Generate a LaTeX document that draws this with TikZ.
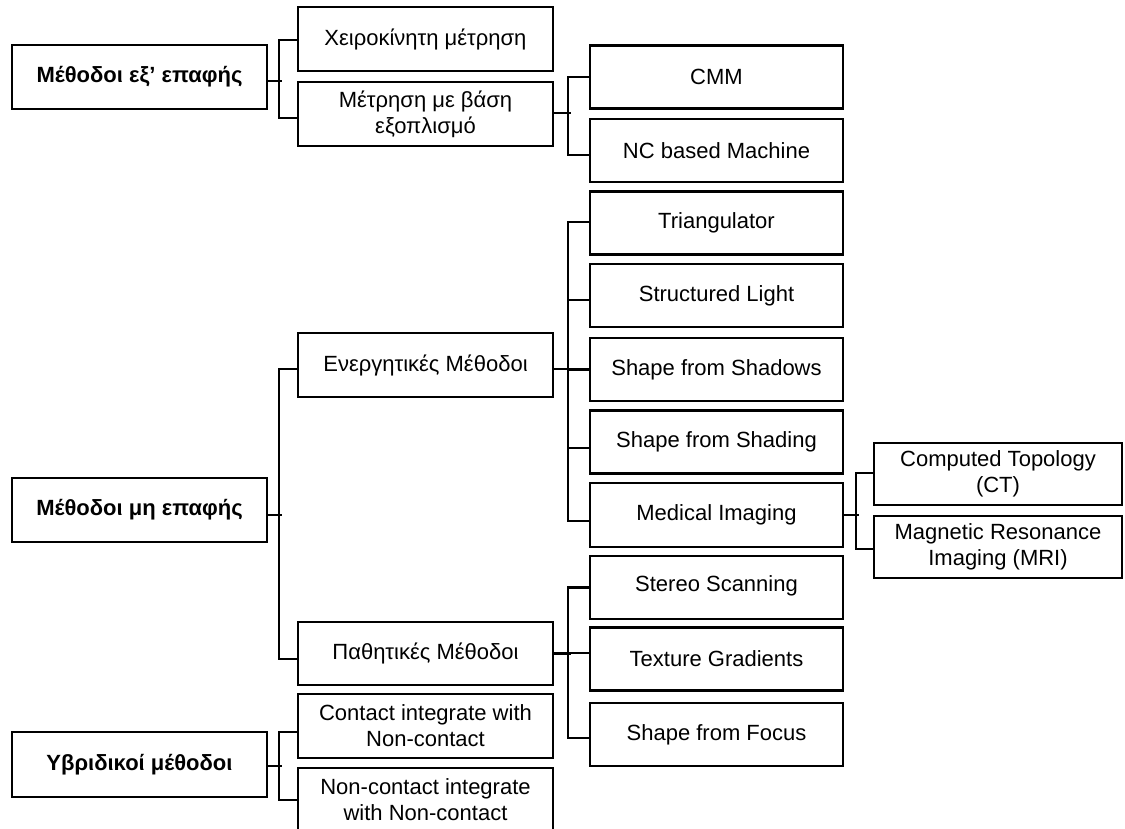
\documentclass[tikz,border=0pt]{standalone}
\usepackage{fontspec}
\setmainfont{Liberation Sans}
\begin{document}
\begin{tikzpicture}[x=1pt,y=-1pt,
  box/.style={draw,line width=2.4pt,rectangle,inner sep=0pt,align=center,
    font=\fontsize{22}{26}\selectfont},
  lzero/.style={box,minimum width=255pt,minimum height=64pt,
    font=\bfseries\fontsize{22}{26}\selectfont},
  lone/.style={box,minimum width=255pt,minimum height=64pt},
  ltwo/.style={box,minimum width=253pt,minimum height=63pt},
  lthree/.style={box,minimum width=248pt,minimum height=62pt},
  link/.style={line width=2.2pt,line cap=rect}]
\useasboundingbox (0,0) rectangle (1125,828);
% level 0
\node[lzero] (a0) at (139.5,77) {Μέθοδοι εξ’ επαφής};
\node[lzero] (b0) at (139.5,510) {Μέθοδοι μη επαφής};
\node[lzero,minimum height=65pt] (c0) at (139.5,764.5) {Υβριδικοί μέθοδοι};
% level 1
\node[lone] (a1) at (425.5,39) {Χειροκίνητη μέτρηση};
\node[lone] (a2) at (425.5,114) {Μέτρηση με βάση\\εξοπλισμό};
\node[lone] (b1) at (425.5,365) {Ενεργητικές Μέθοδοι};
\node[lone,minimum height=63pt] (b2) at (425.5,653.5) {Παθητικές Μέθοδοι};
\node[lone] (c1) at (425.5,726) {Contact integrate with\\Non-contact};
\node[lone] (c2) at (425.5,800) {Non-contact integrate\\with Non-contact};
% level 2
\node[ltwo] (cmm) at (716.5,77) {CMM};
\node[ltwo] (nc) at (716.5,150.5) {NC based Machine};
\node[ltwo] (tri) at (716.5,223) {Triangulator};
\node[ltwo] (sl) at (716.5,295.5) {Structured Light};
\node[ltwo] (ssw) at (716.5,369.5) {Shape from Shadows};
\node[ltwo] (ssd) at (716.5,442) {Shape from Shading};
\node[ltwo,minimum height=64pt] (mi) at (716.5,515) {Medical Imaging};
\node[ltwo] (ss) at (716.5,587.5) {\raisebox{7pt}{Stereo Scanning}};
\node[ltwo] (tg) at (716.5,659) {Texture Gradients};
\node[ltwo] (sf) at (716.5,734.5) {Shape from Focus};
% level 3
\node[lthree] (ct) at (998,474) {Computed Topology\\(CT)};
\node[lthree] (mri) at (998,547) {Magnetic Resonance\\Imaging (MRI)};
% connectors: contact methods
\draw[link] ([yshift=-4pt]a0.east) -- ++(13,0);
\draw[link] ([yshift=-1pt]a1.west) -- ++(-18,0) |- ([yshift=-4pt]a2.west);
\draw[link] ([yshift=1pt]a2.east) -- ++(16,0);
\draw[link] (cmm.west) -- ++(-21,0) |- ([yshift=-4.5pt]nc.west);
% non-contact
\draw[link] ([yshift=-5pt]b0.east) -- ++(13,0);
\draw[link] ([yshift=-4pt]b1.west) -- ++(-18,0) |- ([yshift=-5.5pt]b2.west);
\draw[link] ([yshift=-4pt]b1.east) -- ++(16,0);
\draw[link] ([yshift=1pt]tri.west) -- ++(-21,0) |- ([yshift=-6pt]mi.west);
\draw[link] ([yshift=-4.5pt]sl.west) -- ++(-21,0);
\draw[link] (ssw.west) -- ++(-21,0);
\draw[link] ([yshift=-6pt]ssd.west) -- ++(-21,0);
\draw[link] (mi.east) -- ++(14,0);
\draw[link] ([yshift=1pt]ct.west) -- ++(-17,0) |- ([yshift=-2pt]mri.west);
\draw[link] (b2.east) -- ++(16,0);
\draw[link] (ss.west) -- ++(-21,0) |- ([yshift=-3.5pt]sf.west);
\draw[link] ([yshift=6pt]tg.west) -- ++(-21,0);
% hybrid
\draw[link] ([yshift=-1.5pt]c0.east) -- ++(13,0);
\draw[link] ([yshift=-6pt]c1.west) -- ++(-18,0) |- (c2.west);
\end{tikzpicture}
\end{document}
